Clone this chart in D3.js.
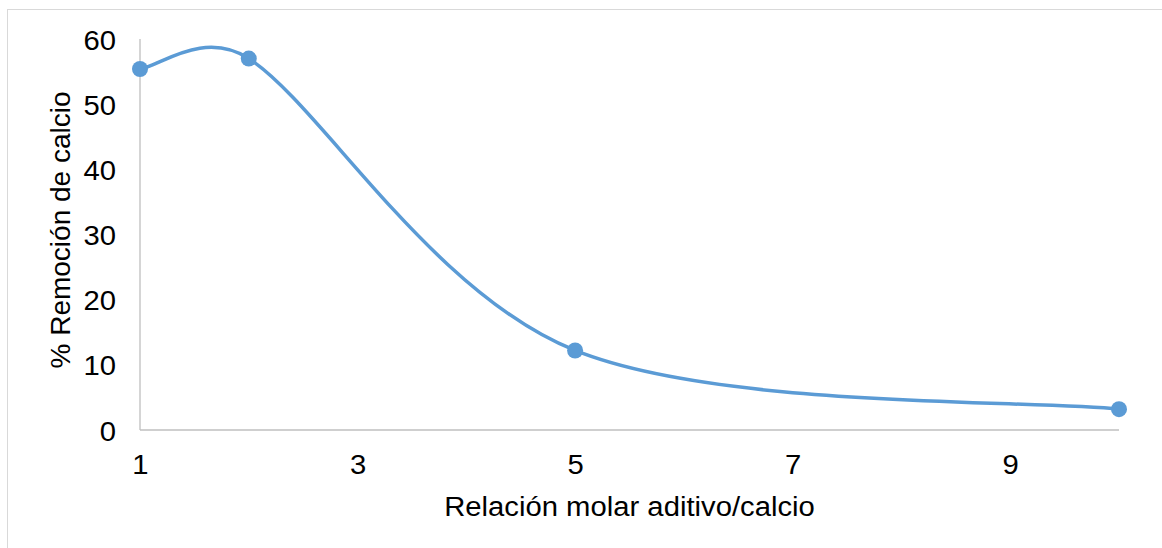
<!DOCTYPE html>
<html>
<head>
<meta charset="utf-8">
<script src="https://cdn.jsdelivr.net/npm/d3@7"></script>
<style>
  html, body { margin: 0; padding: 0; background: #ffffff; }
  svg { display: block; }
  text { font-family: Arial, "Liberation Sans", sans-serif; fill: #000000; }
</style>
</head>
<body>
<svg id="chart" width="1162" height="548"></svg>
<script>
// Relación molar aditivo/calcio vs. % de remoción de calcio
const ratios = [1, 2, 5, 10];
const removal = [55.4, 57.0, 12.2, 3.2];
const xTickValues = [1, 3, 5, 7, 9];
const yTickValues = [0, 10, 20, 30, 40, 50, 60];
const xTitle = "Relación molar aditivo/calcio";
const yTitle = "% Remoción de calcio";

const W = 1162, H = 548;
const plot = { left: 140, right: 1119, top: 39, bottom: 430 };
const fontSize = 28;
const widen = 1.045;          // slightly wide lettering
const seriesColor = "#5B9BD5";
const axisColor = "#BFBFBF";

const svg = d3.select("#chart");

// outer chart frame
svg.append("rect")
  .attr("x", 7.5).attr("y", 9.5)
  .attr("width", W + 20).attr("height", H + 20)
  .attr("fill", "none")
  .attr("stroke", "#D9D9D9")
  .attr("stroke-width", 1);

const x = d3.scaleLinear().domain([1, 10]).range([plot.left, plot.right]);
const y = d3.scaleLinear().domain([0, 60]).range([plot.bottom, plot.top]);

// Y axis: labels only, plus a plain vertical rule
const yAxis = d3.axisLeft(y).tickValues(yTickValues).tickSize(0).tickPadding(23);
const gy = svg.append("g").attr("transform", `translate(${plot.left},0)`).call(yAxis);
gy.select(".domain").remove();
gy.selectAll("text")
  .attr("font-size", fontSize)
  .attr("font-family", "Arial, 'Liberation Sans', sans-serif")
  .attr("dy", "0.36em")
  .attr("transform", `scale(${widen},1)`);

// X axis: labels only, plus a plain horizontal rule
const xAxis = d3.axisBottom(x).tickValues(xTickValues).tickSize(0).tickPadding(24);
const gx = svg.append("g").attr("transform", `translate(0,${plot.bottom})`).call(xAxis);
gx.select(".domain").remove();
gx.selectAll("text")
  .attr("font-size", fontSize)
  .attr("font-family", "Arial, 'Liberation Sans', sans-serif")
  .attr("dy", "0.71em")
  .attr("transform", `scale(${widen},1)`);

svg.append("line")
  .attr("x1", x(1)).attr("x2", x(1))
  .attr("y1", y(60)).attr("y2", y(0))
  .attr("stroke", axisColor).attr("stroke-width", 1.3);
svg.append("line")
  .attr("x1", x(1)).attr("x2", x(10))
  .attr("y1", y(0)).attr("y2", y(0))
  .attr("stroke", axisColor).attr("stroke-width", 1.3);

// Axis titles
svg.append("text")
  .attr("transform", `translate(${(plot.left + plot.right) / 2},516) scale(${widen},1)`)
  .attr("text-anchor", "middle")
  .attr("font-size", fontSize)
  .text(xTitle);

svg.append("text")
  .attr("transform", `translate(70,230) rotate(-90)`)
  .attr("text-anchor", "middle")
  .attr("font-size", fontSize)
  .text(yTitle);

// Smoothed line: Catmull-Rom style Bézier with handle lengths
// limited to half of the segment they belong to.
function SmoothClamped(context) { this._context = context; }
SmoothClamped.prototype = {
  areaStart() { this._line = 0; },
  areaEnd() { this._line = NaN; },
  lineStart() { this._pts = []; },
  point(px, py) { this._pts.push([+px, +py]); },
  lineEnd() {
    const p = this._pts, c = this._context, n = p.length;
    if (!n) return;
    c.moveTo(p[0][0], p[0][1]);
    const dist = (a, b) => Math.hypot(b[0] - a[0], b[1] - a[1]);
    const arm = (from, to, seg) => {
      let dx = (to[0] - from[0]) / 6, dy = (to[1] - from[1]) / 6;
      const len = Math.hypot(dx, dy), lim = seg * 0.5;
      if (len > lim && len > 0) { dx *= lim / len; dy *= lim / len; }
      return [dx, dy];
    };
    for (let i = 0; i < n - 1; i++) {
      const p0 = p[i - 1] || p[i], p1 = p[i], p2 = p[i + 1], p3 = p[i + 2] || p[i + 1];
      const seg = dist(p1, p2);
      const a1 = arm(p0, p2, seg), a2 = arm(p1, p3, seg);
      c.bezierCurveTo(p1[0] + a1[0], p1[1] + a1[1],
                      p2[0] - a2[0], p2[1] - a2[1],
                      p2[0], p2[1]);
    }
  }
};
const curveSmoothClamped = ctx => new SmoothClamped(ctx);

const data = ratios.map((r, i) => ({ r, v: removal[i] }));

const line = d3.line()
  .x(d => x(d.r))
  .y(d => y(d.v))
  .curve(curveSmoothClamped);

svg.append("path")
  .datum(data)
  .attr("d", line)
  .attr("fill", "none")
  .attr("stroke", seriesColor)
  .attr("stroke-width", 3.5)
  .attr("stroke-linecap", "round");

svg.append("g").selectAll("circle")
  .data(data)
  .join("circle")
  .attr("cx", d => x(d.r))
  .attr("cy", d => y(d.v))
  .attr("r", 8)
  .attr("fill", seriesColor);
</script>
</body>
</html>
